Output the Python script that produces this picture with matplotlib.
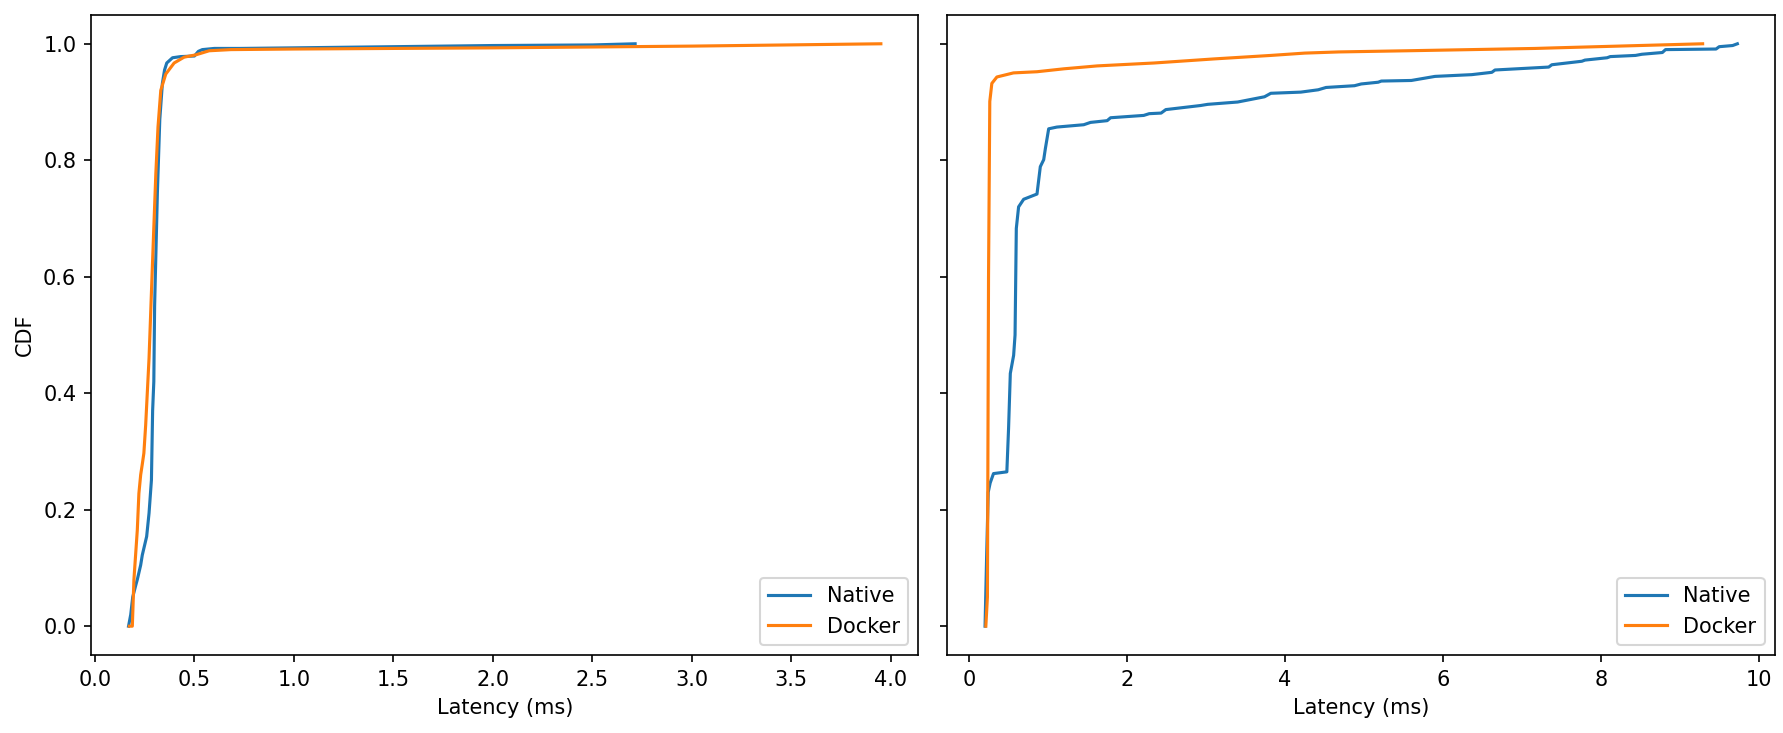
import matplotlib
matplotlib.use("Agg")
import matplotlib.pyplot as plt

# Left panel data (latency ms, CDF)
left_native_x = [0.169, 0.18, 0.19, 0.205, 0.213, 0.23, 0.238, 0.26, 0.272, 0.284, 0.29, 0.296,
                 0.30, 0.314, 0.326, 0.339, 0.35, 0.361, 0.39, 0.431, 0.50, 0.52, 0.54, 0.60,
                 0.73, 1.0, 1.5, 2.0, 2.5, 2.715]
left_native_y = [0.0, 0.02, 0.05, 0.07, 0.08, 0.105, 0.122, 0.154, 0.194, 0.251, 0.37, 0.42,
                 0.55, 0.745, 0.87, 0.932, 0.955, 0.967, 0.976, 0.978, 0.979, 0.987, 0.99, 0.992,
                 0.992, 0.993, 0.995, 0.997, 0.998, 1.0]

left_docker_x = [0.173, 0.188, 0.19, 0.196, 0.213, 0.221, 0.23, 0.238, 0.246, 0.255, 0.272,
                 0.289, 0.306, 0.317, 0.331, 0.356, 0.398, 0.448, 0.507, 0.574, 0.683,
                 1.0, 2.0, 3.0, 3.95]
left_docker_y = [0.0, 0.0, 0.02, 0.08, 0.165, 0.228, 0.26, 0.278, 0.297, 0.345, 0.46,
                 0.62, 0.776, 0.857, 0.92, 0.948, 0.967, 0.977, 0.981, 0.988, 0.99,
                 0.991, 0.993, 0.996, 1.0]

# Right panel data
right_native_x = [0.2, 0.22, 0.24, 0.265, 0.307, 0.476, 0.498, 0.52, 0.562, 0.58, 0.596, 0.625,
                  0.689, 0.858, 0.90, 0.943, 0.964, 1.006, 1.11, 1.45, 1.536, 1.747, 1.79,
                  2.21, 2.28, 2.43, 2.49, 2.93, 3.02, 3.40, 3.74, 3.82, 4.20, 4.42, 4.52,
                  4.88, 4.965, 5.18, 5.22, 5.60, 5.90, 6.365, 6.62, 6.66, 7.34, 7.38, 7.76,
                  7.80, 8.08, 8.12, 8.44, 8.52, 8.78, 8.82, 9.46, 9.50, 9.67, 9.73]
right_native_y = [0.0, 0.12, 0.23, 0.246, 0.262, 0.265, 0.34, 0.434, 0.465, 0.50, 0.683, 0.72,
                  0.733, 0.742, 0.789, 0.801, 0.82, 0.854, 0.857, 0.861, 0.865, 0.868, 0.873,
                  0.877, 0.88, 0.881, 0.887, 0.894, 0.896, 0.90, 0.909, 0.915, 0.917, 0.921, 0.925,
                  0.928, 0.931, 0.934, 0.936, 0.937, 0.944, 0.947, 0.951, 0.955, 0.96, 0.964, 0.97,
                  0.972, 0.976, 0.978, 0.98, 0.982, 0.985, 0.99, 0.991, 0.995, 0.997, 1.0]

right_docker_x = [0.21, 0.23, 0.244, 0.26, 0.286, 0.35, 0.50, 0.56, 0.858, 1.197, 1.62, 2.34,
                  3.10, 3.82, 4.25, 4.68, 5.54, 6.36, 7.17, 7.42, 9.29]
right_docker_y = [0.0, 0.05, 0.6, 0.901, 0.932, 0.943, 0.948, 0.95, 0.952, 0.957, 0.962, 0.967,
                  0.974, 0.98, 0.984, 0.986, 0.988, 0.99, 0.992, 0.993, 1.0]

series_labels = ["Native", "Docker"]
colors = ["#1f77b4", "#ff7f0e"]

fig, axes = plt.subplots(1, 2, figsize=(1783 / 150, 733 / 150), dpi=150, sharey=True)

ax = axes[0]
ax.plot(left_native_x, left_native_y, color=colors[0], label=series_labels[0])
ax.plot(left_docker_x, left_docker_y, color=colors[1], label=series_labels[1])
ax.set_xlabel("Latency (ms)")
ax.set_ylabel("CDF")
ax.legend(loc="lower right")

ax = axes[1]
ax.plot(right_native_x, right_native_y, color=colors[0], label=series_labels[0])
ax.plot(right_docker_x, right_docker_y, color=colors[1], label=series_labels[1])
ax.set_xlabel("Latency (ms)")
ax.legend(loc="lower right")

fig.subplots_adjust(left=0.051, right=0.9955, top=0.98, bottom=0.106, wspace=0.035)
fig.savefig("out.png", dpi=150)
